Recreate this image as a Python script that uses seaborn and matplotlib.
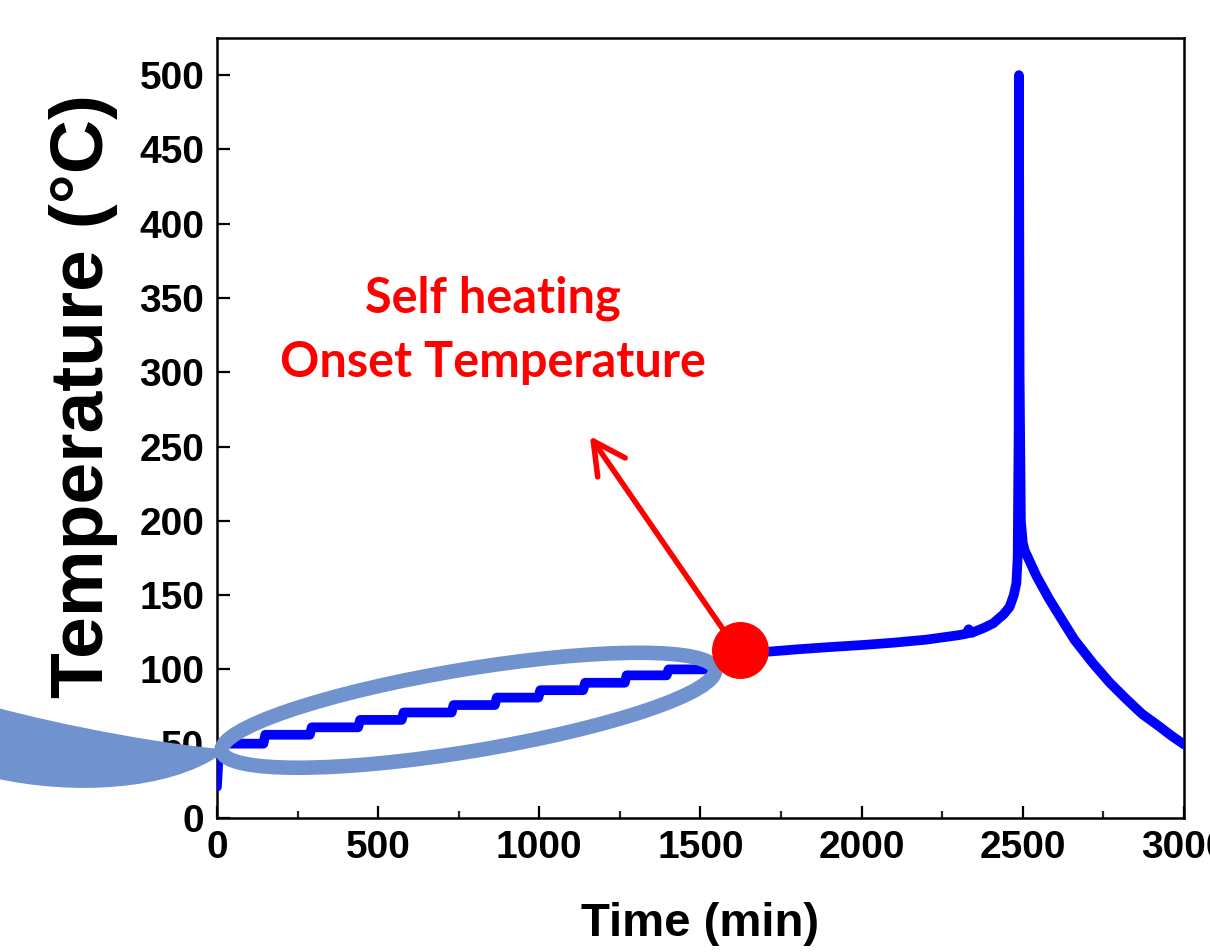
import numpy as np
import pandas as pd
import seaborn as sns
import matplotlib as mpl
import matplotlib.pyplot as plt
from matplotlib.patches import Ellipse, PathPatch
from matplotlib.path import Path
from matplotlib.transforms import ScaledTranslation
from matplotlib.ticker import MultipleLocator
mpl.use("Agg")

# temperature trace: staircase, slow self heating, runaway peak, cooling
time_min = [0, 6, 20, 144, 150, 288, 294, 438, 444, 573, 579, 728, 734,
            862, 868, 997, 1003, 1136, 1142, 1265, 1271, 1395, 1401, 1513,
            1560, 1622, 1715, 1800, 1900, 2015, 2100, 2200, 2300, 2325, 2332,
            2340, 2380, 2408, 2440, 2459, 2472, 2480, 2484, 2487, 2488, 2490,
            2494, 2500, 2506, 2542, 2580, 2614, 2660, 2718, 2770, 2821, 2870,
            2924, 2960, 3000]
temp_c = [21, 45, 50, 50, 56, 56, 61, 61, 66, 66, 71, 71, 76,
          76, 81, 81, 86, 86, 91, 91, 96, 96, 100, 100,
          104, 111, 112, 113.5, 115, 116.6, 118, 120, 123, 124, 127,
          124.5, 128, 131, 137, 142, 150, 158, 175, 260, 500, 300,
          200, 185, 180, 163, 148, 136, 120, 104, 91, 80, 70,
          61.5, 55.5, 49.5]

onset_time = 1622
onset_temp = 113
note_lines = ['Self heating', 'Onset Temperature']

df = pd.DataFrame({'time': time_min, 'temp': temp_c})

sns.set_style('ticks')
plt.rcParams['font.family'] = ['Liberation Sans', 'DejaVu Sans']
plt.rcParams['font.weight'] = 'bold'
plt.rcParams['axes.linewidth'] = 1.8
plt.rcParams['text.color'] = 'black'
plt.rcParams['axes.labelcolor'] = 'black'

fig = plt.figure(figsize=(12.1, 9.52), dpi=100)
ax = fig.add_axes([0.1793, 0.1408, 0.7992, 0.8193])

sns.lineplot(data=df, x='time', y='temp', ax=ax, color='#0000FF', lw=7,
             sort=False, estimator=None, solid_joinstyle='round',
             solid_capstyle='round', zorder=3)

ax.set_xlim(0, 3000)
ax.set_ylim(0, 525)
ax.xaxis.set_major_locator(MultipleLocator(500))
ax.xaxis.set_minor_locator(MultipleLocator(250))
ax.yaxis.set_major_locator(MultipleLocator(50))
ax.tick_params(which='major', direction='in', length=9, width=1.6,
               labelsize=28, pad=9, colors='black')
ax.tick_params(which='minor', direction='in', length=5, width=1.6)
ax.tick_params(which='both', top=False, right=False)
for sp in ax.spines.values():
    sp.set_color('black')
    sp.set_visible(True)

ax.set_xlabel('Time (min)', fontsize=34, fontweight='bold')
ax.set_ylabel('Temperature (°C)', fontsize=54, fontweight='bold')
ax.xaxis.set_label_coords(0.5, -0.108)
ax.yaxis.set_label_coords(-0.102, 0.541)

# highlight ellipse round the staircase (drawn in inches, anchored in data)
blue_mark = '#7092CE'
ell = Ellipse((0, 0), width=5.0, height=0.82, angle=9.4, fill=False,
              edgecolor=blue_mark, lw=10.5, clip_on=False, zorder=4,
              transform=fig.dpi_scale_trans + ScaledTranslation(780, 72.5, ax.transData))
ax.add_patch(ell)

# tail of the hand-drawn loop running off the left edge
tail = Path([(-705, 75), (-450, 60), (-150, 49), (10, 46),
             (10, 43), (-150, 19), (-450, 15), (-705, 28), (-705, 75)],
            [Path.MOVETO, Path.CURVE4, Path.CURVE4, Path.CURVE4,
             Path.LINETO, Path.CURVE4, Path.CURVE4, Path.CURVE4, Path.CLOSEPOLY])
ax.add_patch(PathPatch(tail, facecolor=blue_mark, edgecolor=blue_mark, lw=1,
                       clip_on=False, zorder=4))

ax.plot([onset_time], [onset_temp], 'o', ms=40, color='red', mec='red',
        zorder=6, clip_on=False)

ax.annotate('', xy=(1157, 257), xytext=(1570, 127),
            arrowprops=dict(arrowstyle='->,head_length=1.15,head_width=0.6',
                            color='red', lw=4, mutation_scale=20,
                            shrinkA=0, shrinkB=0, capstyle='round',
                            joinstyle='round'),
            zorder=5)

ax.text(856, 340, note_lines[0], ha='center', va='baseline', color='red',
        fontsize=35, fontweight='bold', family=['Lato', 'DejaVu Sans'])
ax.text(856, 297, note_lines[1], ha='center', va='baseline', color='red',
        fontsize=35, fontweight='bold', family=['Lato', 'DejaVu Sans'])

fig.savefig('out.png', dpi=100)
